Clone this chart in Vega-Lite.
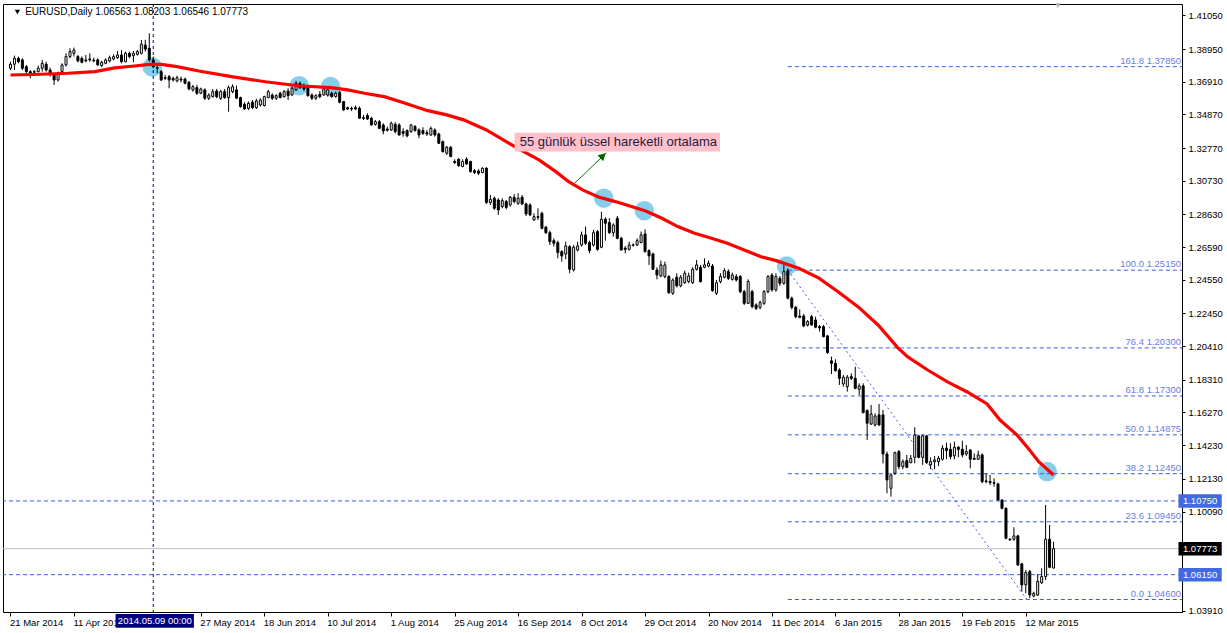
{
"$schema": "https://vega.github.io/schema/vega-lite/v6.json",
"width": 1179, "height": 608,
"autosize": {"type": "none"},
"padding": {"left": 3, "top": 4, "right": 45, "bottom": 21},
"background": "white",
"config": {
  "view": {"stroke": "black", "strokeWidth": 1},
  "axis": {"labelFont": "Liberation Sans", "labelFontSize": 9.5, "labelColor": "black", "tickColor": "black", "domain": false, "grid": false, "labelOverlap": false, "labelFlush": false}
},
"datasets": {
"k": [
{"i":0,"o":1.3775,"h":1.3816,"l":1.3764,"c":1.3800},
{"i":1,"o":1.3800,"h":1.3854,"l":1.3764,"c":1.3837},
{"i":2,"o":1.3837,"h":1.3848,"l":1.3806,"c":1.3816},
{"i":3,"o":1.3827,"h":1.3837,"l":1.3764,"c":1.3775},
{"i":4,"o":1.3785,"h":1.3796,"l":1.3733,"c":1.3754},
{"i":5,"o":1.3754,"h":1.3764,"l":1.3712,"c":1.3733},
{"i":6,"o":1.3750,"h":1.3764,"l":1.3737,"c":1.3754},
{"i":7,"o":1.3754,"h":1.3792,"l":1.3750,"c":1.3775},
{"i":8,"o":1.3775,"h":1.3827,"l":1.3754,"c":1.3806},
{"i":9,"o":1.3800,"h":1.3816,"l":1.3754,"c":1.3764},
{"i":10,"o":1.3764,"h":1.3779,"l":1.3723,"c":1.3744},
{"i":11,"o":1.3733,"h":1.3744,"l":1.3671,"c":1.3702},
{"i":12,"o":1.3702,"h":1.3754,"l":1.3692,"c":1.3744},
{"i":13,"o":1.3754,"h":1.3806,"l":1.3744,"c":1.3796},
{"i":14,"o":1.3796,"h":1.3868,"l":1.3785,"c":1.3848},
{"i":15,"o":1.3848,"h":1.3900,"l":1.3837,"c":1.3879},
{"i":16,"o":1.3868,"h":1.3904,"l":1.3848,"c":1.3889},
{"i":17,"o":1.3848,"h":1.3858,"l":1.3812,"c":1.3821},
{"i":18,"o":1.3837,"h":1.3848,"l":1.3806,"c":1.3812},
{"i":19,"o":1.3827,"h":1.3858,"l":1.3812,"c":1.3821},
{"i":20,"o":1.3833,"h":1.3868,"l":1.3816,"c":1.3827},
{"i":21,"o":1.3825,"h":1.3841,"l":1.3812,"c":1.3821},
{"i":22,"o":1.3827,"h":1.3837,"l":1.3792,"c":1.3796},
{"i":23,"o":1.3792,"h":1.3821,"l":1.3783,"c":1.3812},
{"i":24,"o":1.3806,"h":1.3837,"l":1.3800,"c":1.3827},
{"i":25,"o":1.3821,"h":1.3854,"l":1.3812,"c":1.3841},
{"i":26,"o":1.3833,"h":1.3862,"l":1.3825,"c":1.3848},
{"i":27,"o":1.3841,"h":1.3883,"l":1.3833,"c":1.3858},
{"i":28,"o":1.3858,"h":1.3889,"l":1.3806,"c":1.3816},
{"i":29,"o":1.3816,"h":1.3879,"l":1.3812,"c":1.3868},
{"i":30,"o":1.3868,"h":1.3879,"l":1.3837,"c":1.3848},
{"i":31,"o":1.3854,"h":1.3883,"l":1.3812,"c":1.3868},
{"i":32,"o":1.3862,"h":1.3889,"l":1.3854,"c":1.3879},
{"i":33,"o":1.3868,"h":1.3952,"l":1.3862,"c":1.3925},
{"i":34,"o":1.3920,"h":1.3952,"l":1.3879,"c":1.3895},
{"i":35,"o":1.3900,"h":1.3993,"l":1.3816,"c":1.3827},
{"i":36,"o":1.3827,"h":1.3848,"l":1.3775,"c":1.3785},
{"i":37,"o":1.3775,"h":1.3796,"l":1.3744,"c":1.3779},
{"i":38,"o":1.3754,"h":1.3764,"l":1.3696,"c":1.3702},
{"i":39,"o":1.3716,"h":1.3733,"l":1.3702,"c":1.3712},
{"i":40,"o":1.3723,"h":1.3733,"l":1.3650,"c":1.3702},
{"i":41,"o":1.3712,"h":1.3723,"l":1.3692,"c":1.3702},
{"i":42,"o":1.3696,"h":1.3729,"l":1.3687,"c":1.3716},
{"i":43,"o":1.3708,"h":1.3723,"l":1.3687,"c":1.3702},
{"i":44,"o":1.3708,"h":1.3716,"l":1.3675,"c":1.3681},
{"i":45,"o":1.3687,"h":1.3696,"l":1.3638,"c":1.3646},
{"i":46,"o":1.3640,"h":1.3671,"l":1.3629,"c":1.3660},
{"i":47,"o":1.3654,"h":1.3671,"l":1.3609,"c":1.3619},
{"i":48,"o":1.3619,"h":1.3654,"l":1.3613,"c":1.3646},
{"i":49,"o":1.3640,"h":1.3650,"l":1.3577,"c":1.3588},
{"i":50,"o":1.3588,"h":1.3619,"l":1.3577,"c":1.3608},
{"i":51,"o":1.3598,"h":1.3646,"l":1.3592,"c":1.3629},
{"i":52,"o":1.3633,"h":1.3646,"l":1.3588,"c":1.3598},
{"i":53,"o":1.3588,"h":1.3640,"l":1.3577,"c":1.3629},
{"i":54,"o":1.3629,"h":1.3646,"l":1.3584,"c":1.3592},
{"i":55,"o":1.3592,"h":1.3667,"l":1.3504,"c":1.3654},
{"i":56,"o":1.3629,"h":1.3675,"l":1.3619,"c":1.3660},
{"i":57,"o":1.3640,"h":1.3667,"l":1.3584,"c":1.3588},
{"i":58,"o":1.3592,"h":1.3598,"l":1.3529,"c":1.3536},
{"i":59,"o":1.3550,"h":1.3563,"l":1.3515,"c":1.3521},
{"i":60,"o":1.3525,"h":1.3567,"l":1.3515,"c":1.3556},
{"i":61,"o":1.3563,"h":1.3577,"l":1.3521,"c":1.3529},
{"i":62,"o":1.3529,"h":1.3584,"l":1.3521,"c":1.3571},
{"i":63,"o":1.3546,"h":1.3588,"l":1.3536,"c":1.3577},
{"i":64,"o":1.3542,"h":1.3604,"l":1.3536,"c":1.3598},
{"i":65,"o":1.3592,"h":1.3640,"l":1.3588,"c":1.3629},
{"i":66,"o":1.3608,"h":1.3619,"l":1.3577,"c":1.3588},
{"i":67,"o":1.3588,"h":1.3613,"l":1.3577,"c":1.3604},
{"i":68,"o":1.3619,"h":1.3629,"l":1.3588,"c":1.3592},
{"i":69,"o":1.3598,"h":1.3640,"l":1.3592,"c":1.3629},
{"i":70,"o":1.3633,"h":1.3650,"l":1.3577,"c":1.3604},
{"i":71,"o":1.3608,"h":1.3660,"l":1.3604,"c":1.3650},
{"i":72,"o":1.3640,"h":1.3696,"l":1.3633,"c":1.3681},
{"i":73,"o":1.3681,"h":1.3692,"l":1.3646,"c":1.3654},
{"i":74,"o":1.3667,"h":1.3681,"l":1.3633,"c":1.3646},
{"i":75,"o":1.3660,"h":1.3671,"l":1.3598,"c":1.3604},
{"i":76,"o":1.3608,"h":1.3619,"l":1.3577,"c":1.3588},
{"i":77,"o":1.3588,"h":1.3613,"l":1.3577,"c":1.3604},
{"i":78,"o":1.3613,"h":1.3633,"l":1.3588,"c":1.3598},
{"i":79,"o":1.3608,"h":1.3660,"l":1.3604,"c":1.3646},
{"i":80,"o":1.3608,"h":1.3654,"l":1.3598,"c":1.3640},
{"i":81,"o":1.3619,"h":1.3629,"l":1.3592,"c":1.3598},
{"i":82,"o":1.3598,"h":1.3629,"l":1.3592,"c":1.3619},
{"i":83,"o":1.3625,"h":1.3633,"l":1.3556,"c":1.3563},
{"i":84,"o":1.3567,"h":1.3571,"l":1.3509,"c":1.3515},
{"i":85,"o":1.3529,"h":1.3536,"l":1.3515,"c":1.3521},
{"i":86,"o":1.3525,"h":1.3536,"l":1.3509,"c":1.3521},
{"i":87,"o":1.3529,"h":1.3542,"l":1.3515,"c":1.3521},
{"i":88,"o":1.3525,"h":1.3536,"l":1.3459,"c":1.3463},
{"i":89,"o":1.3467,"h":1.3484,"l":1.3452,"c":1.3463},
{"i":90,"o":1.3480,"h":1.3494,"l":1.3452,"c":1.3459},
{"i":91,"o":1.3463,"h":1.3473,"l":1.3417,"c":1.3421},
{"i":92,"o":1.3425,"h":1.3452,"l":1.3417,"c":1.3442},
{"i":93,"o":1.3442,"h":1.3452,"l":1.3396,"c":1.3400},
{"i":94,"o":1.3421,"h":1.3432,"l":1.3363,"c":1.3384},
{"i":95,"o":1.3396,"h":1.3411,"l":1.3380,"c":1.3388},
{"i":96,"o":1.3390,"h":1.3442,"l":1.3384,"c":1.3432},
{"i":97,"o":1.3425,"h":1.3438,"l":1.3369,"c":1.3380},
{"i":98,"o":1.3421,"h":1.3432,"l":1.3355,"c":1.3359},
{"i":99,"o":1.3380,"h":1.3400,"l":1.3348,"c":1.3369},
{"i":100,"o":1.3386,"h":1.3394,"l":1.3344,"c":1.3353},
{"i":101,"o":1.3380,"h":1.3427,"l":1.3373,"c":1.3421},
{"i":102,"o":1.3411,"h":1.3421,"l":1.3380,"c":1.3386},
{"i":103,"o":1.3390,"h":1.3400,"l":1.3338,"c":1.3359},
{"i":104,"o":1.3386,"h":1.3407,"l":1.3359,"c":1.3369},
{"i":105,"o":1.3373,"h":1.3390,"l":1.3353,"c":1.3365},
{"i":106,"o":1.3359,"h":1.3411,"l":1.3353,"c":1.3400},
{"i":107,"o":1.3390,"h":1.3400,"l":1.3348,"c":1.3359},
{"i":108,"o":1.3365,"h":1.3373,"l":1.3303,"c":1.3307},
{"i":109,"o":1.3317,"h":1.3324,"l":1.3249,"c":1.3255},
{"i":110,"o":1.3245,"h":1.3290,"l":1.3234,"c":1.3282},
{"i":111,"o":1.3282,"h":1.3290,"l":1.3220,"c":1.3224},
{"i":112,"o":1.3193,"h":1.3207,"l":1.3178,"c":1.3186},
{"i":113,"o":1.3207,"h":1.3213,"l":1.3162,"c":1.3166},
{"i":114,"o":1.3162,"h":1.3207,"l":1.3157,"c":1.3193},
{"i":115,"o":1.3207,"h":1.3220,"l":1.3172,"c":1.3178},
{"i":116,"o":1.3193,"h":1.3199,"l":1.3124,"c":1.3130},
{"i":117,"o":1.3136,"h":1.3145,"l":1.3115,"c":1.3124},
{"i":118,"o":1.3134,"h":1.3145,"l":1.3109,"c":1.3120},
{"i":119,"o":1.3124,"h":1.3157,"l":1.3120,"c":1.3151},
{"i":120,"o":1.3151,"h":1.3157,"l":1.2928,"c":1.2937},
{"i":121,"o":1.2937,"h":1.2984,"l":1.2922,"c":1.2957},
{"i":122,"o":1.2964,"h":1.2974,"l":1.2891,"c":1.2901},
{"i":123,"o":1.2953,"h":1.2964,"l":1.2860,"c":1.2891},
{"i":124,"o":1.2912,"h":1.2964,"l":1.2901,"c":1.2949},
{"i":125,"o":1.2943,"h":1.2953,"l":1.2895,"c":1.2907},
{"i":126,"o":1.2922,"h":1.2978,"l":1.2912,"c":1.2970},
{"i":127,"o":1.2970,"h":1.2990,"l":1.2932,"c":1.2943},
{"i":128,"o":1.2932,"h":1.2995,"l":1.2922,"c":1.2964},
{"i":129,"o":1.2970,"h":1.2984,"l":1.2922,"c":1.2928},
{"i":130,"o":1.2928,"h":1.2937,"l":1.2853,"c":1.2866},
{"i":131,"o":1.2922,"h":1.2932,"l":1.2853,"c":1.2860},
{"i":132,"o":1.2828,"h":1.2870,"l":1.2824,"c":1.2849},
{"i":133,"o":1.2849,"h":1.2901,"l":1.2828,"c":1.2845},
{"i":134,"o":1.2870,"h":1.2880,"l":1.2770,"c":1.2776},
{"i":135,"o":1.2783,"h":1.2791,"l":1.2741,"c":1.2749},
{"i":136,"o":1.2749,"h":1.2762,"l":1.2672,"c":1.2693},
{"i":137,"o":1.2699,"h":1.2714,"l":1.2662,"c":1.2683},
{"i":138,"o":1.2687,"h":1.2699,"l":1.2589,"c":1.2625},
{"i":139,"o":1.2631,"h":1.2641,"l":1.2568,"c":1.2604},
{"i":140,"o":1.2616,"h":1.2693,"l":1.2583,"c":1.2666},
{"i":141,"o":1.2662,"h":1.2672,"l":1.2496,"c":1.2521},
{"i":142,"o":1.2517,"h":1.2672,"l":1.2506,"c":1.2658},
{"i":143,"o":1.2641,"h":1.2693,"l":1.2631,"c":1.2666},
{"i":144,"o":1.2672,"h":1.2756,"l":1.2662,"c":1.2735},
{"i":145,"o":1.2735,"h":1.2787,"l":1.2672,"c":1.2683},
{"i":146,"o":1.2687,"h":1.2699,"l":1.2620,"c":1.2637},
{"i":147,"o":1.2672,"h":1.2766,"l":1.2662,"c":1.2749},
{"i":148,"o":1.2756,"h":1.2766,"l":1.2637,"c":1.2645},
{"i":149,"o":1.2658,"h":1.2880,"l":1.2652,"c":1.2833},
{"i":150,"o":1.2833,"h":1.2845,"l":1.2699,"c":1.2808},
{"i":151,"o":1.2812,"h":1.2839,"l":1.2741,"c":1.2749},
{"i":152,"o":1.2749,"h":1.2808,"l":1.2724,"c":1.2797},
{"i":153,"o":1.2839,"h":1.2853,"l":1.2708,"c":1.2714},
{"i":154,"o":1.2714,"h":1.2724,"l":1.2637,"c":1.2641},
{"i":155,"o":1.2652,"h":1.2666,"l":1.2620,"c":1.2645},
{"i":156,"o":1.2645,"h":1.2693,"l":1.2637,"c":1.2672},
{"i":157,"o":1.2670,"h":1.2683,"l":1.2662,"c":1.2672},
{"i":158,"o":1.2672,"h":1.2714,"l":1.2666,"c":1.2699},
{"i":159,"o":1.2687,"h":1.2756,"l":1.2683,"c":1.2735},
{"i":160,"o":1.2741,"h":1.2770,"l":1.2625,"c":1.2631},
{"i":161,"o":1.2637,"h":1.2645,"l":1.2548,"c":1.2604},
{"i":162,"o":1.2616,"h":1.2625,"l":1.2516,"c":1.2521},
{"i":163,"o":1.2516,"h":1.2533,"l":1.2458,"c":1.2485},
{"i":164,"o":1.2479,"h":1.2575,"l":1.2471,"c":1.2548},
{"i":165,"o":1.2475,"h":1.2568,"l":1.2464,"c":1.2548},
{"i":166,"o":1.2475,"h":1.2485,"l":1.2367,"c":1.2375},
{"i":167,"o":1.2371,"h":1.2464,"l":1.2360,"c":1.2454},
{"i":168,"o":1.2471,"h":1.2496,"l":1.2408,"c":1.2417},
{"i":169,"o":1.2417,"h":1.2485,"l":1.2408,"c":1.2471},
{"i":170,"o":1.2437,"h":1.2512,"l":1.2429,"c":1.2496},
{"i":171,"o":1.2444,"h":1.2500,"l":1.2433,"c":1.2479},
{"i":172,"o":1.2437,"h":1.2533,"l":1.2429,"c":1.2521},
{"i":173,"o":1.2521,"h":1.2579,"l":1.2512,"c":1.2548},
{"i":174,"o":1.2533,"h":1.2548,"l":1.2437,"c":1.2444},
{"i":175,"o":1.2533,"h":1.2589,"l":1.2527,"c":1.2548},
{"i":176,"o":1.2541,"h":1.2575,"l":1.2533,"c":1.2558},
{"i":177,"o":1.2541,"h":1.2554,"l":1.2381,"c":1.2387},
{"i":178,"o":1.2371,"h":1.2454,"l":1.2360,"c":1.2437},
{"i":179,"o":1.2444,"h":1.2496,"l":1.2433,"c":1.2475},
{"i":180,"o":1.2471,"h":1.2527,"l":1.2464,"c":1.2512},
{"i":181,"o":1.2506,"h":1.2521,"l":1.2454,"c":1.2464},
{"i":182,"o":1.2458,"h":1.2500,"l":1.2450,"c":1.2485},
{"i":183,"o":1.2475,"h":1.2491,"l":1.2444,"c":1.2454},
{"i":184,"o":1.2475,"h":1.2485,"l":1.2371,"c":1.2381},
{"i":185,"o":1.2381,"h":1.2392,"l":1.2298,"c":1.2308},
{"i":186,"o":1.2308,"h":1.2458,"l":1.2304,"c":1.2444},
{"i":187,"o":1.2381,"h":1.2392,"l":1.2277,"c":1.2288},
{"i":188,"o":1.2298,"h":1.2308,"l":1.2267,"c":1.2277},
{"i":189,"o":1.2283,"h":1.2325,"l":1.2271,"c":1.2313},
{"i":190,"o":1.2308,"h":1.2392,"l":1.2298,"c":1.2381},
{"i":191,"o":1.2381,"h":1.2485,"l":1.2371,"c":1.2475},
{"i":192,"o":1.2485,"h":1.2496,"l":1.2381,"c":1.2392},
{"i":193,"o":1.2392,"h":1.2496,"l":1.2381,"c":1.2475},
{"i":194,"o":1.2464,"h":1.2479,"l":1.2417,"c":1.2433},
{"i":195,"o":1.2433,"h":1.2548,"l":1.2423,"c":1.2506},
{"i":196,"o":1.2512,"h":1.2527,"l":1.2333,"c":1.2340},
{"i":197,"o":1.2340,"h":1.2350,"l":1.2271,"c":1.2283},
{"i":198,"o":1.2283,"h":1.2292,"l":1.2215,"c":1.2225},
{"i":199,"o":1.2229,"h":1.2271,"l":1.2215,"c":1.2221},
{"i":200,"o":1.2229,"h":1.2242,"l":1.2159,"c":1.2167},
{"i":201,"o":1.2173,"h":1.2204,"l":1.2163,"c":1.2194},
{"i":202,"o":1.2225,"h":1.2236,"l":1.2167,"c":1.2173},
{"i":203,"o":1.2204,"h":1.2225,"l":1.2153,"c":1.2159},
{"i":204,"o":1.2163,"h":1.2173,"l":1.2132,"c":1.2155},
{"i":205,"o":1.2163,"h":1.2173,"l":1.2096,"c":1.2100},
{"i":206,"o":1.2105,"h":1.2111,"l":1.1993,"c":1.2001},
{"i":207,"o":1.1949,"h":1.1976,"l":1.1867,"c":1.1934},
{"i":208,"o":1.1934,"h":1.1959,"l":1.1882,"c":1.1888},
{"i":209,"o":1.1892,"h":1.1903,"l":1.1799,"c":1.1840},
{"i":210,"o":1.1805,"h":1.1861,"l":1.1788,"c":1.1847},
{"i":211,"o":1.1788,"h":1.1861,"l":1.1757,"c":1.1847},
{"i":212,"o":1.1851,"h":1.1872,"l":1.1830,"c":1.1840},
{"i":213,"o":1.1840,"h":1.1913,"l":1.1772,"c":1.1778},
{"i":214,"o":1.1772,"h":1.1809,"l":1.1736,"c":1.1793},
{"i":215,"o":1.1793,"h":1.1809,"l":1.1622,"c":1.1626},
{"i":216,"o":1.1639,"h":1.1647,"l":1.1456,"c":1.1560},
{"i":217,"o":1.1555,"h":1.1674,"l":1.1549,"c":1.1618},
{"i":218,"o":1.1549,"h":1.1622,"l":1.1539,"c":1.1605},
{"i":219,"o":1.1612,"h":1.1680,"l":1.1543,"c":1.1549},
{"i":220,"o":1.1612,"h":1.1643,"l":1.1310,"c":1.1368},
{"i":221,"o":1.1368,"h":1.1383,"l":1.1123,"c":1.1206},
{"i":222,"o":1.1154,"h":1.1248,"l":1.1102,"c":1.1237},
{"i":223,"o":1.1248,"h":1.1383,"l":1.1237,"c":1.1376},
{"i":224,"o":1.1383,"h":1.1393,"l":1.1273,"c":1.1289},
{"i":225,"o":1.1289,"h":1.1335,"l":1.1273,"c":1.1320},
{"i":226,"o":1.1327,"h":1.1362,"l":1.1279,"c":1.1285},
{"i":227,"o":1.1314,"h":1.1362,"l":1.1310,"c":1.1341},
{"i":228,"o":1.1347,"h":1.1535,"l":1.1310,"c":1.1487},
{"i":229,"o":1.1481,"h":1.1487,"l":1.1341,"c":1.1347},
{"i":230,"o":1.1347,"h":1.1487,"l":1.1300,"c":1.1481},
{"i":231,"o":1.1481,"h":1.1487,"l":1.1306,"c":1.1314},
{"i":232,"o":1.1300,"h":1.1347,"l":1.1273,"c":1.1320},
{"i":233,"o":1.1320,"h":1.1356,"l":1.1273,"c":1.1331},
{"i":234,"o":1.1320,"h":1.1356,"l":1.1293,"c":1.1341},
{"i":235,"o":1.1335,"h":1.1424,"l":1.1327,"c":1.1404},
{"i":236,"o":1.1404,"h":1.1439,"l":1.1335,"c":1.1389},
{"i":237,"o":1.1397,"h":1.1435,"l":1.1335,"c":1.1352},
{"i":238,"o":1.1356,"h":1.1445,"l":1.1335,"c":1.1410},
{"i":239,"o":1.1410,"h":1.1418,"l":1.1347,"c":1.1397},
{"i":240,"o":1.1397,"h":1.1451,"l":1.1347,"c":1.1362},
{"i":241,"o":1.1368,"h":1.1424,"l":1.1356,"c":1.1383},
{"i":242,"o":1.1393,"h":1.1397,"l":1.1279,"c":1.1335},
{"i":243,"o":1.1341,"h":1.1372,"l":1.1331,"c":1.1335},
{"i":244,"o":1.1335,"h":1.1389,"l":1.1331,"c":1.1362},
{"i":245,"o":1.1362,"h":1.1372,"l":1.1185,"c":1.1196},
{"i":246,"o":1.1200,"h":1.1248,"l":1.1185,"c":1.1196},
{"i":247,"o":1.1196,"h":1.1237,"l":1.1175,"c":1.1189},
{"i":248,"o":1.1189,"h":1.1216,"l":1.1164,"c":1.1185},
{"i":249,"o":1.1181,"h":1.1189,"l":1.1077,"c":1.1081},
{"i":250,"o":1.1081,"h":1.1085,"l":1.1023,"c":1.1029},
{"i":251,"o":1.1029,"h":1.1035,"l":1.0836,"c":1.0842},
{"i":252,"o":1.0836,"h":1.0842,"l":1.0827,"c":1.0832},
{"i":253,"o":1.0836,"h":1.0911,"l":1.0827,"c":1.0857},
{"i":254,"o":1.0857,"h":1.0863,"l":1.0669,"c":1.0676},
{"i":255,"o":1.0682,"h":1.0690,"l":1.0509,"c":1.0551},
{"i":256,"o":1.0551,"h":1.0644,"l":1.0499,"c":1.0628},
{"i":257,"o":1.0634,"h":1.0644,"l":1.0468,"c":1.0488},
{"i":258,"o":1.0482,"h":1.0509,"l":1.0474,"c":1.0499},
{"i":259,"o":1.0488,"h":1.0619,"l":1.0482,"c":1.0572},
{"i":260,"o":1.0565,"h":1.0655,"l":1.0557,"c":1.0603},
{"i":261,"o":1.0603,"h":1.1050,"l":1.0582,"c":1.0836},
{"i":262,"o":1.0836,"h":1.0925,"l":1.0655,"c":1.0661},
{"i":263,"o":1.06563,"h":1.08203,"l":1.06546,"c":1.07773}
],
"ema": [
{"i":0,"v":1.3733},{"i":5.75,"v":1.3736},{"i":14.5,"v":1.3744},{"i":21.25,"v":1.3754},{"i":26.25,"v":1.3777},{"i":31.25,"v":1.3789},{"i":35,"v":1.3799},{"i":38,"v":1.3799},{"i":42,"v":1.3785},{"i":47.5,"v":1.3758},{"i":55.75,"v":1.3723},{"i":64.25,"v":1.3691},{"i":72.5,"v":1.3666},{"i":80.75,"v":1.3654},{"i":85,"v":1.3640},{"i":89.25,"v":1.3619},{"i":94.25,"v":1.3598},{"i":98.75,"v":1.3563},{"i":105,"v":1.3512},{"i":110,"v":1.3484},{"i":114.25,"v":1.3453},{"i":120,"v":1.3390},{"i":125,"v":1.3317},{"i":128.25,"v":1.3271},{"i":133.25,"v":1.3203},{"i":137.5,"v":1.3130},{"i":140.75,"v":1.3067},{"i":144.25,"v":1.3016},{"i":148.25,"v":1.2972},{"i":152.5,"v":1.2943},{"i":160,"v":1.2886},{"i":164.25,"v":1.2839},{"i":168.25,"v":1.2787},{"i":172.5,"v":1.2745},{"i":176.75,"v":1.2714},{"i":180.75,"v":1.2683},{"i":185,"v":1.2641},{"i":189.25,"v":1.2599},{"i":193.25,"v":1.2573},{"i":198.75,"v":1.2527},{"i":203.75,"v":1.2467},{"i":208.75,"v":1.2379},{"i":213.75,"v":1.2286},{"i":218.75,"v":1.2173},{"i":223.75,"v":1.2030},{"i":226.25,"v":1.1974},{"i":231.25,"v":1.1892},{"i":236.25,"v":1.1818},{"i":241.25,"v":1.1755},{"i":246.25,"v":1.1680},{"i":249.5,"v":1.1580},{"i":253.75,"v":1.1487},{"i":256.25,"v":1.1414},{"i":259.25,"v":1.1320},{"i":263,"v":1.1237}
],
"circles": [
{"i":35.75,"p":1.3783},{"i":72.8,"p":1.3666},{"i":80.7,"p":1.3661},{"i":149.6,"p":1.2964},{"i":159.8,"p":1.2886},{"i":195.7,"p":1.2541},{"i":261.4,"p":1.1258}
],
"fib": [
{"t":"161.8 1.37850","p":1.3785,"from":196},
{"t":"100.0 1.25150","p":1.2515,"from":196},
{"t":"76.4 1.20300","p":1.2030,"from":196},
{"t":"61.8 1.17300","p":1.1730,"from":196},
{"t":"50.0 1.14875","p":1.14875,"from":196},
{"t":"38.2 1.12450","p":1.1245,"from":196},
{"t":"23.6 1.09450","p":1.0945,"from":196},
{"t":"0.0 1.04600","p":1.0460,"from":196}
],
"fibtrend": [{"i":196,"p":1.2515},{"i":256.25,"p":1.0460}],
"hlines": [{"p":1.1075},{"p":1.0615}],
"bid": [{"p":1.07773}],
"vline": [{"i":36}],
"note": [{"x1":127.1,"x2":178.9,"y1":1.3373,"y2":1.3255,"tx":128.4,"ty":1.3315,"t":"55 günlük üssel hareketli ortalama"}],
"arrow": [{"i":142.3,"p":1.3059},{"i":150.25,"p":1.3247}],
"arrowhead": [{"i":149.4,"p":1.3229}],
"title": [{"i":3.7,"p":1.4126,"t":"EURUSD,Daily  1.06563 1.08203 1.06546 1.07773"}],
"menu": [{"i":1.75,"p":1.4126},{"i":264.1,"p":1.4166,"grey":true}],
"tags": [
{"kind":"sel","x1":26.5,"x2":46.25,"y1":1.0370,"y2":1.0283,"tx":36.4,"ty":1.0326,"t":"2014.05.09 00:00"},
{"kind":"level","x1":294.5,"x2":305.4,"y1":1.1117,"y2":1.1033,"tx":299.95,"ty":1.1075,"t":"1.10750"},
{"kind":"bid","x1":294.5,"x2":305.4,"y1":1.0819,"y2":1.0735,"tx":299.95,"ty":1.07773,"t":"1.07773"},
{"kind":"level","x1":294.5,"x2":305.4,"y1":1.0657,"y2":1.0573,"tx":299.95,"ty":1.0615,"t":"1.06150"}
]
},
"layer": [
{
 "data": {"name": "circles"},
 "mark": {"type": "point", "filled": true, "size": 380, "opacity": 1, "color": "#87ceeb"},
 "encoding": {
  "x": {"field": "i", "type": "quantitative", "scale": {"domain": [-0.625, 294.125], "nice": false, "zero": false},
        "axis": {"orient": "bottom", "zindex": 0, "tickCount": 60, "values": [0,16,48,64,80,96,112,128,144,160,176,192,208,224,240,256],
                 "labelExpr": "{'0':'21 Mar 2014','16':'11 Apr 2014','48':'27 May 2014','64':'18 Jun 2014','80':'10 Jul 2014','96':'1 Aug 2014','112':'25 Aug 2014','128':'16 Sep 2014','144':'8 Oct 2014','160':'29 Oct 2014','176':'20 Nov 2014','192':'11 Dec 2014','208':'6 Jan 2015','224':'28 Jan 2015','240':'19 Feb 2015','256':'12 Mar 2015'}[''+datum.value]",
                 "labelAlign": "left", "labelOffset": -1, "tickSize": 4, "labelPadding": 1, "labelBaseline": "top", "labelOverlap": false, "title": null}},
  "y": {"field": "p", "type": "quantitative", "scale": {"domain": [1.0382, 1.4176], "nice": false, "zero": false},
        "axis": {"orient": "right", "zindex": 0, "tickCount": 60, "values": [1.4105,1.3895,1.3691,1.3487,1.3277,1.3073,1.2863,1.2659,1.2455,1.2245,1.2041,1.1831,1.1627,1.1423,1.1213,1.1009,1.0391],
                 "format": ".5f", "tickSize": 3, "labelPadding": 3, "labelBaseline": "middle", "labelOverlap": false, "title": null}}
 }
},
{
 "data": {"name": "hlines"},
 "mark": {"type": "rule", "color": "#3a5fe6", "strokeWidth": 1, "strokeDash": [4, 3]},
 "encoding": {"y": {"field": "p", "type": "quantitative"}}
},
{
 "data": {"name": "bid"},
 "mark": {"type": "rule", "color": "#c0c0c0", "strokeWidth": 1},
 "encoding": {"y": {"field": "p", "type": "quantitative"}}
},
{
 "data": {"name": "fib"},
 "mark": {"type": "rule", "color": "#3a5fe6", "strokeWidth": 1, "strokeDash": [4, 3]},
 "encoding": {
  "x": {"field": "from", "type": "quantitative"},
  "x2": {"value": "width"},
  "y": {"field": "p", "type": "quantitative"}
 }
},
{
 "data": {"name": "fib"},
 "mark": {"type": "text", "align": "right", "baseline": "bottom", "dy": -1, "dx": -1, "font": "Liberation Sans", "fontSize": 9.5, "color": "#6a7de6"},
 "encoding": {
  "x": {"value": "width"},
  "y": {"field": "p", "type": "quantitative"},
  "text": {"field": "t"}
 }
},
{
 "data": {"name": "fibtrend"},
 "mark": {"type": "line", "color": "#3a5fe6", "strokeWidth": 1, "strokeDash": [2, 3]},
 "encoding": {
  "x": {"field": "i", "type": "quantitative"},
  "y": {"field": "p", "type": "quantitative"}
 }
},
{
 "data": {"name": "vline"},
 "mark": {"type": "rule", "color": "#000080", "strokeWidth": 1, "strokeDash": [3, 3]},
 "encoding": {"x": {"field": "i", "type": "quantitative"}}
},
{
 "data": {"name": "k"},
 "mark": {"type": "rule", "color": "black", "strokeWidth": 1},
 "encoding": {
  "x": {"field": "i", "type": "quantitative"},
  "y": {"field": "l", "type": "quantitative"},
  "y2": {"field": "h"}
 }
},
{
 "data": {"name": "k"},
 "mark": {"type": "bar", "width": 2, "stroke": "black", "strokeWidth": 1},
 "encoding": {
  "x": {"field": "i", "type": "quantitative"},
  "y": {"field": "o", "type": "quantitative"},
  "y2": {"field": "c"},
  "fill": {"condition": {"test": "datum.c > datum.o", "value": "white"}, "value": "black"}
 }
},
{
 "data": {"name": "ema"},
 "mark": {"type": "line", "color": "#ff0000", "strokeWidth": 3.2},
 "encoding": {
  "x": {"field": "i", "type": "quantitative"},
  "y": {"field": "v", "type": "quantitative"}
 }
},
{
 "data": {"name": "note"},
 "mark": {"type": "rect", "color": "#ffc0cb"},
 "encoding": {
  "x": {"field": "x1", "type": "quantitative"},
  "x2": {"field": "x2"},
  "y": {"field": "y1", "type": "quantitative"},
  "y2": {"field": "y2"}
 }
},
{
 "data": {"name": "note"},
 "mark": {"type": "text", "align": "left", "baseline": "middle", "font": "Liberation Sans", "fontSize": 13, "color": "#1c1c40"},
 "encoding": {
  "x": {"field": "tx", "type": "quantitative"},
  "y": {"field": "ty", "type": "quantitative"},
  "text": {"field": "t"}
 }
},
{
 "data": {"name": "arrow"},
 "mark": {"type": "line", "color": "#008000", "strokeWidth": 1},
 "encoding": {
  "x": {"field": "i", "type": "quantitative"},
  "y": {"field": "p", "type": "quantitative"}
 }
},
{
 "data": {"name": "arrowhead"},
 "mark": {"type": "point", "shape": "triangle-up", "angle": 47, "size": 70, "filled": true, "opacity": 1, "color": "#006400"},
 "encoding": {
  "x": {"field": "i", "type": "quantitative"},
  "y": {"field": "p", "type": "quantitative"}
 }
},
{
 "data": {"name": "menu"},
 "mark": {"type": "point", "shape": "triangle-down", "size": 28, "filled": true, "opacity": 1},
 "encoding": {
  "x": {"field": "i", "type": "quantitative"},
  "y": {"field": "p", "type": "quantitative"},
  "color": {"condition": {"test": "datum.grey", "value": "#b0b0b0"}, "value": "black"}
 }
},
{
 "data": {"name": "title"},
 "mark": {"type": "text", "align": "left", "baseline": "middle", "font": "Liberation Sans", "fontSize": 10, "color": "black"},
 "encoding": {
  "x": {"field": "i", "type": "quantitative"},
  "y": {"field": "p", "type": "quantitative"},
  "text": {"field": "t"}
 }
},
{
 "data": {"name": "tags"},
 "mark": {"type": "rect"},
 "encoding": {
  "x": {"field": "x1", "type": "quantitative"},
  "x2": {"field": "x2"},
  "y": {"field": "y1", "type": "quantitative"},
  "y2": {"field": "y2"},
  "fill": {"field": "kind", "type": "nominal", "scale": {"domain": ["sel", "level", "bid"], "range": ["#000080", "#4169e1", "#000000"]}, "legend": null}
 }
},
{
 "data": {"name": "tags"},
 "mark": {"type": "text", "align": "center", "baseline": "middle", "font": "Liberation Sans", "fontSize": 9.5, "color": "white"},
 "encoding": {
  "x": {"field": "tx", "type": "quantitative"},
  "y": {"field": "ty", "type": "quantitative"},
  "text": {"field": "t"}
 }
}
]
}
